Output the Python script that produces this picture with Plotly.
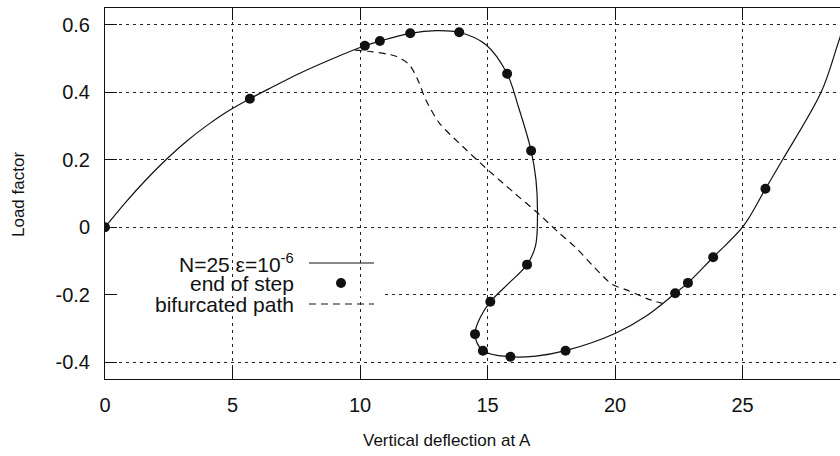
import plotly.graph_objects as go

# Solid path: N=25, eps=1e-6
path_x = [0.0, 0.8, 1.6, 2.39, 3.2, 4.0, 4.8, 5.68, 6.6, 7.62, 8.9, 10.19, 10.78, 11.97, 12.99,
          13.89, 14.94, 15.77, 16.2, 16.71, 16.9, 16.96, 16.88, 16.55, 15.85, 15.11, 14.74, 14.51,
          14.82, 15.90, 16.90, 18.06, 20.0, 21.21, 22.36, 22.86, 23.85, 25.03, 25.90, 26.57, 28.1,
          28.75, 29.3]
path_y = [0.0, 0.073, 0.140, 0.2, 0.255, 0.302, 0.343, 0.381, 0.417, 0.456, 0.499, 0.538, 0.552,
          0.575, 0.583, 0.578, 0.541, 0.455, 0.36, 0.227, 0.141, 0.03, -0.056, -0.111, -0.165,
          -0.221, -0.264, -0.317, -0.366, -0.384, -0.382, -0.366, -0.315, -0.264, -0.196, -0.165,
          -0.089, 0.003, 0.114, 0.2, 0.403, 0.546, 0.67]

# End of step points
step_x = [0.0, 5.68, 10.19, 10.78, 11.97, 13.89, 15.77, 16.71, 16.55, 15.11, 14.51, 14.82,
          15.90, 18.06, 22.36, 22.86, 23.85, 25.90]
step_y = [0.0, 0.381, 0.538, 0.552, 0.575, 0.578, 0.455, 0.227, -0.111, -0.221, -0.317, -0.366,
          -0.384, -0.366, -0.196, -0.165, -0.089, 0.114]

# Bifurcated path
bif_x = [9.8, 10.49, 11.41, 11.93, 12.26, 12.58, 13.11, 14.02, 15.0, 16.0, 17.03, 17.81, 18.47,
         19.2, 19.9, 20.43, 20.9, 21.3, 21.86]
bif_y = [0.525, 0.52, 0.507, 0.482, 0.438, 0.378, 0.309, 0.24, 0.171, 0.105, 0.038, -0.017, -0.061,
         -0.12, -0.17, -0.185, -0.2, -0.213, -0.226]

x_ticks = [0, 5, 10, 15, 20, 25]
x_tick_labels = ["0", "5", "10", "15", "20", "25"]
y_ticks = [-0.4, -0.2, 0, 0.2, 0.4, 0.6]
y_tick_labels = ["-0.4", "-0.2", "0", "0.2", "0.4", "0.6"]

legend_labels = ["N=25 \u03b5=10<sup>-6</sup>", "end of step", "bifurcated path"]

FONT = "Liberation Sans, Arial, Helvetica, sans-serif"
INK = "#111111"

W, H = 840, 456
PLOT_L, PLOT_T, PLOT_B = 105, 8, 379          # pixels of the plot frame
PLOT_W = W - PLOT_L
PLOT_H = PLOT_B - PLOT_T

X_RANGE = [0, PLOT_W / 25.5]
Y_RANGE = [-0.45, 0.65]


def px(x):
    return (x - PLOT_L) / PLOT_W


def py(y):
    return (PLOT_B - y) / PLOT_H


fig = go.Figure()
fig.add_trace(go.Scatter(x=path_x, y=path_y, mode="lines", name="N=25 eps=1e-6",
                         line=dict(color=INK, width=1.2, shape="spline", smoothing=1.0),
                         showlegend=False))
fig.add_trace(go.Scatter(x=bif_x, y=bif_y, mode="lines", name="bifurcated path",
                         line=dict(color=INK, width=1.2, dash="7px,5px", shape="spline", smoothing=0.8),
                         showlegend=False))
fig.add_trace(go.Scatter(x=step_x, y=step_y, mode="markers", name="end of step",
                         marker=dict(color=INK, size=10), showlegend=False))
# trace on the top axis so that its mirrored ticks are drawn
fig.add_trace(go.Scatter(x=[None], y=[None], xaxis="x2", mode="lines", showlegend=False,
                         hoverinfo="skip"))

grid = dict(showgrid=True, gridcolor="#222222", gridwidth=1, griddash="3px,4px")

fig.update_layout(
    width=W, height=H,
    margin=dict(l=PLOT_L, r=0, t=PLOT_T, b=H - PLOT_B, autoexpand=False),
    paper_bgcolor="white", plot_bgcolor="white",
    font=dict(family=FONT, size=20, color=INK),
    xaxis=dict(range=X_RANGE, tickvals=x_ticks, ticktext=x_tick_labels, ticks="inside",
               ticklen=12, tickcolor=INK, showline=True, linecolor=INK, linewidth=1,
               zeroline=False, ticklabelstandoff=8, tickfont=dict(size=20), **grid),
    xaxis2=dict(range=X_RANGE, overlaying="x", side="top", tickvals=x_ticks, ticks="inside",
                ticklen=12, tickcolor=INK, showline=True, linecolor=INK, linewidth=1,
                showticklabels=False, showgrid=False, zeroline=False),
    yaxis=dict(range=Y_RANGE, tickvals=y_ticks, ticktext=y_tick_labels, ticks="inside",
               ticklen=12, tickcolor=INK, showline=True, linecolor=INK, linewidth=1,
               zeroline=False, ticklabelstandoff=10, tickfont=dict(size=20), **grid),
    showlegend=False,
)

# the -0.2 grid line is interrupted behind the key in the original
fig.add_shape(type="line", xref="x", yref="y", x0=0.1, x1=10.95, y0=-0.2, y1=-0.2,
              line=dict(color="white", width=3), layer="between")

# axis titles
fig.add_annotation(text="Vertical deflection at A", xref="paper", yref="paper",
                   x=px(447), y=py(440), xanchor="center", yanchor="middle", showarrow=False,
                   font=dict(size=17, family=FONT, color=INK))
fig.add_annotation(text="Load factor", xref="paper", yref="paper", x=px(18), y=py(195),
                   xanchor="center", yanchor="middle", textangle=-90, showarrow=False,
                   font=dict(size=17, family=FONT, color=INK))

# key: text on the left, sample on the right
key_rows = [263, 283, 304]
for lbl, yy in zip(legend_labels, key_rows):
    fig.add_annotation(text=lbl, xref="paper", yref="paper", x=px(296), y=py(yy),
                       xanchor="right", yanchor="middle", showarrow=False,
                       font=dict(size=21, family=FONT, color=INK))
fig.add_shape(type="line", xref="paper", yref="paper", x0=px(309), x1=px(374),
              y0=py(key_rows[0]), y1=py(key_rows[0]), line=dict(color=INK, width=1.2))
fig.add_shape(type="line", xref="paper", yref="paper", x0=px(309), x1=px(374),
              y0=py(key_rows[2]), y1=py(key_rows[2]), line=dict(color=INK, width=1.2, dash="7px,5px"))
fig.add_shape(type="circle", xref="paper", yref="paper", x0=px(336), x1=px(346),
              y0=py(key_rows[1] + 5), y1=py(key_rows[1] - 5), fillcolor=INK, line=dict(width=0))

fig.write_html("out.html", config={"displayModeBar": False},
               post_script="document.body.style.margin='0';document.body.style.overflow='hidden';")
